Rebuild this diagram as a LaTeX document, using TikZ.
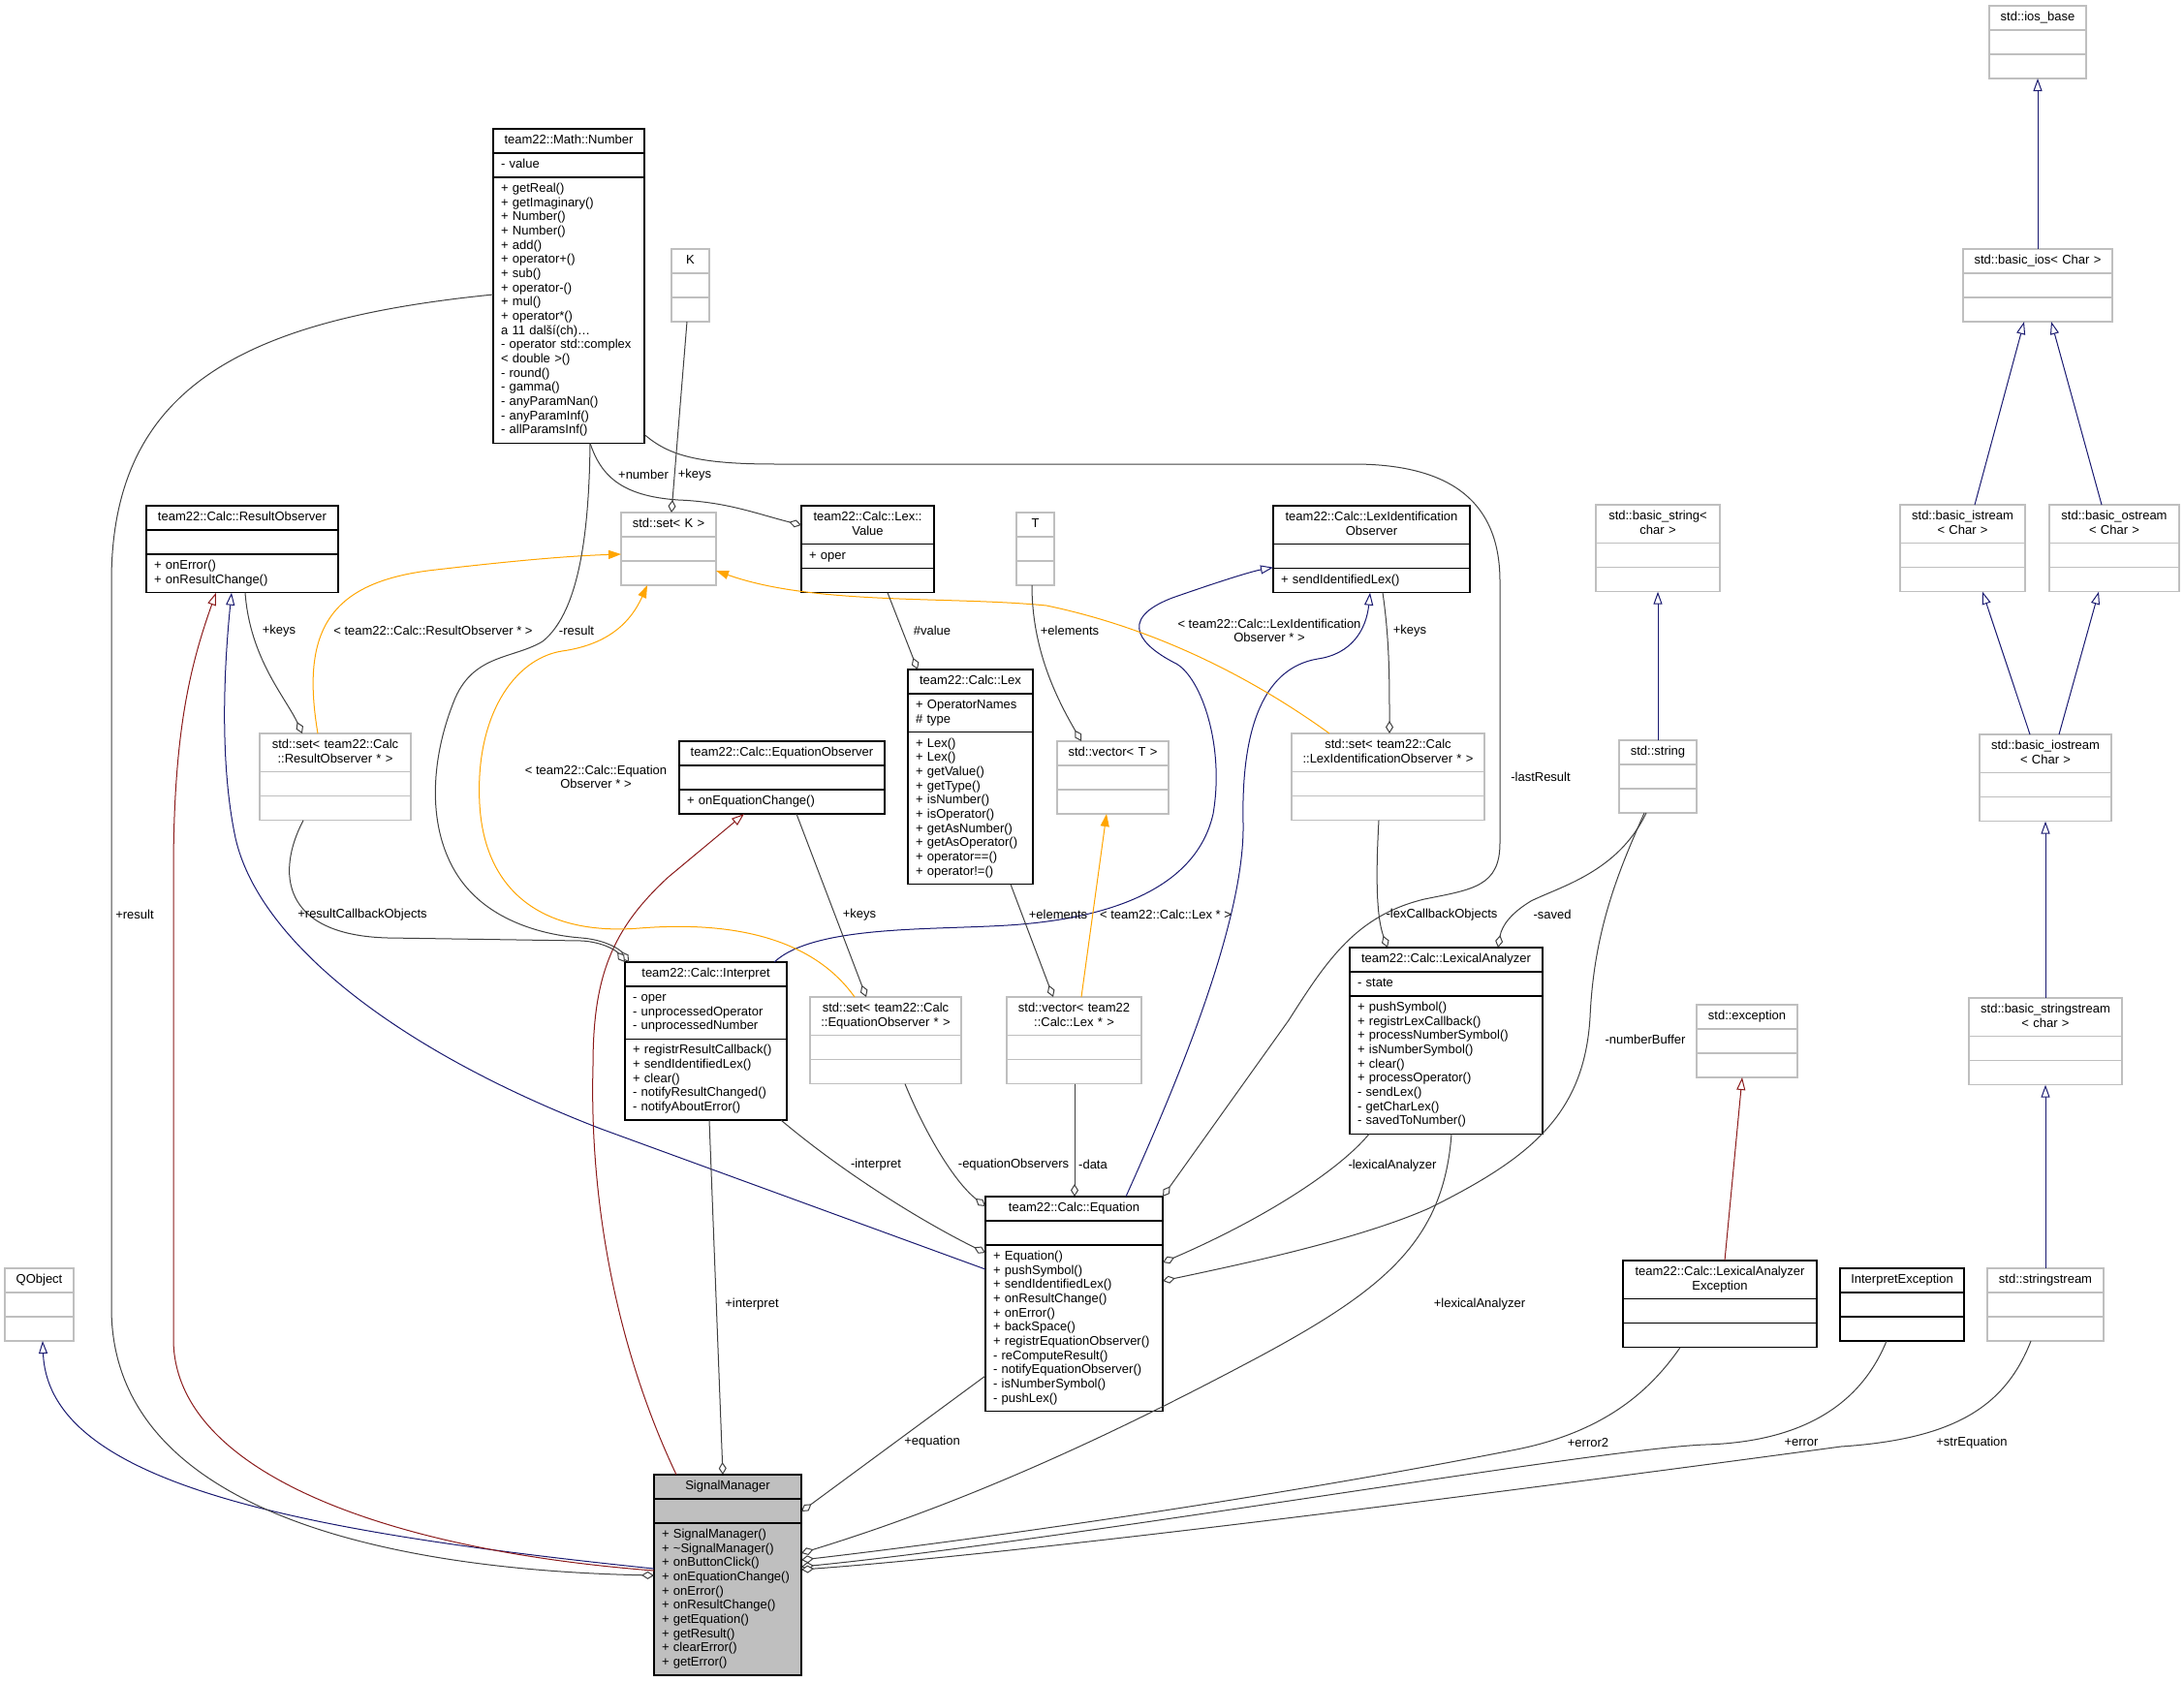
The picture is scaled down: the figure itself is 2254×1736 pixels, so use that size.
\documentclass[tikz,border=0pt]{standalone}
\usepackage{fontspec}
\setmainfont{Liberation Sans}
\usetikzlibrary{arrows.meta, positioning}

\definecolor{edgegray}{HTML}{404040}
\definecolor{inhblue}{HTML}{191970}
\definecolor{privred}{HTML}{8B1A1A}
\definecolor{tmplorange}{HTML}{FFA500}
\definecolor{ghostgray}{HTML}{BFBFBF}

\newcommand{\clsfont}{\fontsize{13}{14.67}\selectfont}

\tikzset{
  clsbox/.style={
    rectangle,
    draw,
    fill=white,
    line width=1.2pt,
    inner xsep=8pt,
    inner ysep=5.17pt,
    outer sep=0pt,
    font=\clsfont,
    execute at begin node=\strut,
    execute at end node=\strut
  },
  solidcls/.style={clsbox, draw=black},
  ghostcls/.style={clsbox, draw=ghostgray},
  focuscls/.style={clsbox, draw=black, fill=ghostgray},
  titlepart/.style={align=center},
  memberpart/.style={align=left},
  uses/.style={draw=edgegray, line width=1pt, -{Diamond[length=13pt, width=8pt, fill=white]}},
  inherits/.style={draw=inhblue, line width=1pt, -{Triangle[length=13pt, width=9pt, fill=white]}},
  privinherits/.style={draw=privred, line width=1pt, -{Triangle[length=13pt, width=9pt, fill=white]}},
  instance/.style={draw=tmplorange, line width=1pt, -{Triangle[length=13pt, width=9pt, fill=tmplorange]}},
  note/.style={font=\clsfont, inner sep=0pt, align=center}
}

% class box: title, attributes, methods
\newcommand{\umlclass}[7][solidcls]{%
  \pgfmathsetlengthmacro{\clstw}{#4-16}%
  \node[#1, titlepart, text width=\clstw, anchor=north west] (#2) at (#3) {#5};
  \node[#1, memberpart, text width=\clstw, below=0pt of #2] (#2-a) {#6};
  \node[#1, memberpart, text width=\clstw, below=0pt of #2-a] (#2-m) {#7};
}

\begin{document}
\begin{tikzpicture}[x=1pt,y=-1pt]
\useasboundingbox (0,0) rectangle (2254,1736);

\umlclass{number}{509,133}{156}{team22::Math::Number}{- value}{+ getReal()\\+ getImaginary()\\+ Number()\\+ Number()\\+ add()\\+ operator+()\\+ sub()\\+ operator-()\\+ mul()\\+ operator*()\\a 11 další(ch)\ldots\\- operator std::complex\\< double >()\\- round()\\- gamma()\\- anyParamNan()\\- anyParamInf()\\- allParamsInf()}
\umlclass[ghostcls]{keyK}{693,257}{39}{K}{}{}
\umlclass{resobs}{151,522}{198}{team22::Calc::ResultObserver}{}{+ onError()\\+ onResultChange()}
\umlclass[ghostcls]{setK}{641,529}{98}{std::set< K >}{}{}
\umlclass{lexval}{827,522}{137}{team22::Calc::Lex::\\Value}{+ oper}{}
\umlclass[ghostcls]{tparam}{1049,529}{39}{T}{}{}
\umlclass{lexidobs}{1314,522}{203}{team22::Calc::LexIdentification\\Observer}{}{+ sendIdentifiedLex()}
\umlclass{lex}{937,691}{129}{team22::Calc::Lex}{+ OperatorNames\\\# type}{+ Lex()\\+ Lex()\\+ getValue()\\+ getType()\\+ isNumber()\\+ isOperator()\\+ getAsNumber()\\+ getAsOperator()\\+ operator==()\\+ operator!=()}
\umlclass{eqobs}{701,765}{212}{team22::Calc::EquationObserver}{}{+ onEquationChange()}
\umlclass[ghostcls]{vecT}{1091,765}{115}{std::vector< T >}{}{}
\umlclass[ghostcls]{setres}{268,757}{156}{std::set< team22::Calc\\::ResultObserver * >}{}{}
\umlclass[ghostcls]{setlexid}{1333,757}{199}{std::set< team22::Calc\\::LexIdentificationObserver * >}{}{}
\umlclass{interp}{645,993}{167}{team22::Calc::Interpret}{- oper\\- unprocessedOperator\\- unprocessedNumber}{+ registrResultCallback()\\+ sendIdentifiedLex()\\+ clear()\\- notifyResultChanged()\\- notifyAboutError()}
\umlclass[ghostcls]{seteq}{836,1029}{156}{std::set< team22::Calc\\::EquationObserver * >}{}{}
\umlclass[ghostcls]{veclex}{1039,1029}{139}{std::vector< team22\\::Calc::Lex * >}{}{}
\umlclass{equation}{1017,1235}{183}{team22::Calc::Equation}{}{+ Equation()\\+ pushSymbol()\\+ sendIdentifiedLex()\\+ onResultChange()\\+ onError()\\+ backSpace()\\+ registrEquationObserver()\\- reComputeResult()\\- notifyEquationObserver()\\- isNumberSymbol()\\- pushLex()}
\umlclass{lexan}{1393,978}{199}{team22::Calc::LexicalAnalyzer}{- state}{+ pushSymbol()\\+ registrLexCallback()\\+ processNumberSymbol()\\+ isNumberSymbol()\\+ clear()\\+ processOperator()\\- sendLex()\\- getCharLex()\\- savedToNumber()}
\umlclass[focuscls]{sigman}{675,1522}{152}{SignalManager}{}{+ SignalManager()\\+ \textasciitilde SignalManager()\\+ onButtonClick()\\+ onEquationChange()\\+ onError()\\+ onResultChange()\\+ getEquation()\\+ getResult()\\+ clearError()\\+ getError()}
\umlclass[ghostcls]{qobject}{5,1309}{71}{QObject}{}{}
\umlclass[ghostcls]{stdexc}{1751,1037}{104}{std::exception}{}{}
\umlclass{lexexc}{1675,1301}{200}{team22::Calc::LexicalAnalyzer\\Exception}{}{}
\umlclass{interpexc}{1899,1309}{128}{InterpretException}{}{}
\umlclass[ghostcls]{sstream}{2051,1309}{120}{std::stringstream}{}{}
\umlclass[ghostcls]{sstreambase}{2032,1030}{158}{std::basic\_stringstream\\< char >}{}{}
\umlclass[ghostcls]{stdstring}{1671,764}{80}{std::string}{}{}
\umlclass[ghostcls]{iostream}{2043,758}{136}{std::basic\_iostream\\< Char >}{}{}
\umlclass[ghostcls]{basicstr}{1647,521}{128}{std::basic\_string<\\ char >}{}{}
\umlclass[ghostcls]{istream}{1961,521}{129}{std::basic\_istream\\< Char >}{}{}
\umlclass[ghostcls]{ostream}{2115,521}{134}{std::basic\_ostream\\< Char >}{}{}
\umlclass[ghostcls]{basicios}{2026,257}{154}{std::basic\_ios< Char >}{}{}
\umlclass[ghostcls]{iosbase}{2053,6}{100}{std::ios\_base}{}{}

% inheritance
\draw[inherits] ([yshift=-47pt]sigman-m.north west) .. controls (300,1580) and (50,1530) .. ([xshift=39pt]qobject-m.south west);
\draw[inherits] ([yshift=-25pt]equation-m.north west) -- (620,1165) .. controls (400,1080) and (262,965) .. (242,860) .. controls (226,780) and (232,680) .. ([xshift=88pt]resobs-m.south west);
\draw[inherits] ([xshift=154pt]interp.north west) .. controls (840,955) and (960,960) .. (1040,955) .. controls (1150,948) and (1235,915) .. (1252,840) .. controls (1264,770) and (1240,700) .. (1214,685) .. controls (1180,668) and (1150,640) .. (1210,617) .. controls (1250,603) and (1290,590) .. ([yshift=-24pt]lexidobs-a.north west);
\draw[inherits] ([xshift=145pt]equation.north west) .. controls (1200,1150) and (1285,960) .. (1283,850) .. controls (1281,760) and (1300,690) .. (1360,680) .. controls (1395,675) and (1410,650) .. ([xshift=100pt]lexidobs-m.south west);
\draw[privinherits] ([yshift=-49pt]sigman-m.north west) .. controls (400,1600) and (180,1520) .. (179,1383) -- (179,900) .. controls (179,760) and (195,690) .. ([xshift=72pt]resobs-m.south west);
\draw[privinherits] ([xshift=23pt]sigman.north west) .. controls (640,1400) and (608,1250) .. (612,1100) .. controls (612,1010) and (630,960) .. (690,905) -- ([xshift=67pt]eqobs-m.south west);
\draw[privinherits] ([xshift=105pt]lexexc.north west) -- ([xshift=47pt]stdexc-m.south west);
\draw[inherits] (stdstring.north) -- (basicstr-m.south);
\draw[inherits] (basicios.north) -- (iosbase-m.south);
\draw[inherits] ([xshift=77pt]istream.north west) -- ([xshift=63pt]basicios-m.south west);
\draw[inherits] ([xshift=54pt]ostream.north west) -- ([xshift=91pt]basicios-m.south west);
\draw[inherits] ([xshift=52pt]iostream.north west) -- ([xshift=85pt]istream-m.south west);
\draw[inherits] ([xshift=82pt]iostream.north west) -- ([xshift=51pt]ostream-m.south west);
\draw[inherits] (sstreambase.north) -- (iostream-m.south);
\draw[inherits] (sstream.north) -- (sstreambase-m.south);

% template instances
\draw[instance] ([xshift=60pt]setres.north west) .. controls (310,650) and (340,600) .. (450,588) .. controls (520,580) and (580,574) .. ([yshift=-18pt]setK-a.north west);
\draw[instance] ([xshift=46pt]seteq.north west) .. controls (840,970) and (760,950) .. (660,958) .. controls (560,966) and (500,920) .. (495,830) .. controls (490,740) and (530,680) .. (580,672) .. controls (630,665) and (652,640) .. ([xshift=27pt]setK-m.south west);
\draw[instance] ([xshift=39pt]setlexid.north west) .. controls (1300,705) and (1200,650) .. (1080,625) .. controls (980,615) and (840,625) .. ([yshift=-10pt]setK-m.north east);
\draw[instance] ([xshift=77pt]veclex.north west) -- ([xshift=51pt]vecT-m.south west);

% usage
\draw[uses] ([yshift=-121pt]number-m.north west) .. controls (250,330) and (115,400) .. (115,600) -- (115,1350) .. controls (115,1560) and (400,1620) .. ([yshift=-54pt]sigman-m.north west);
\draw[uses] ([xshift=100pt]number-m.south west) .. controls (620,490) and (640,512) .. (700,516) .. controls (750,518) and (780,530) .. ([yshift=-20pt]lexval.north west);
\draw[uses] ([xshift=100pt]number-m.south west) .. controls (608,540) and (600,630) .. (560,662) .. controls (530,680) and (490,675) .. (470,720) .. controls (445,780) and (440,850) .. (470,900) .. controls (500,950) and (560,965) .. (600,968) .. controls (625,970) and (640,980) .. ([xshift=4pt]interp.north west);
\draw[uses] ([xshift=16pt]keyK-m.south west) -- ([xshift=52pt]setK.north west);
\draw[uses] ([xshift=89pt]lexval-m.south west) -- ([xshift=10pt]lex.north west);
\draw[uses] ([xshift=16pt]tparam-m.south west) .. controls (1065,670) and (1090,720) .. ([xshift=25pt]vecT.north west);
\draw[uses] ([xshift=102pt]resobs-m.south west) .. controls (258,680) and (295,720) .. ([xshift=44pt]setres.north west);
\draw[uses] ([xshift=45pt]setres-m.south west) .. controls (285,900) and (290,965) .. (400,968) -- (600,971) .. controls (620,972) and (635,980) .. (interp.north west);
\draw[uses] ([xshift=121pt]eqobs-m.south west) -- ([xshift=58pt]seteq.north west);
\draw[uses] ([xshift=106pt]lex-m.south west) -- ([xshift=48pt]veclex.north west);
\draw[uses] ([xshift=70pt]veclex-m.south west) -- ([xshift=92pt]equation.north west);
\draw[uses] ([xshift=98pt]seteq-m.south west) .. controls (955,1170) and (985,1220) .. ([yshift=-10pt]equation.north west);
\draw[uses] ([xshift=161pt]interp-m.south west) .. controls (870,1210) and (950,1260) .. ([yshift=-8pt]equation-m.north west);
\draw[uses] ([xshift=87pt]interp-m.south west) -- ([xshift=71pt]sigman.north west);
\draw[uses] ([yshift=-135pt]equation-m.north west) -- ([yshift=-13pt]sigman-a.north east);
\draw[uses] ([yshift=9pt]number-m.south east) .. controls (690,470) and (720,479) .. (800,479) -- (1400,479) .. controls (1500,480) and (1548,520) .. (1548,600) -- (1548,870) .. controls (1548,915) and (1520,918) .. (1470,928) .. controls (1400,945) and (1370,990) .. (1330,1053) -- (equation.north east);
\draw[uses] ([xshift=90pt]setlexid-m.south west) .. controls (1420,900) and (1420,945) .. ([xshift=39pt]lexan.north west);
\draw[uses] ([xshift=113pt]lexidobs-m.south west) .. controls (1434,660) and (1434,700) .. ([xshift=101pt]setlexid.north west);
\draw[uses] ([xshift=28pt]stdstring-m.south west) .. controls (1670,900) and (1610,915) .. (1580,930) .. controls (1560,942) and (1550,955) .. ([xshift=153pt]lexan.north west);
\draw[uses] ([xshift=26pt]stdstring-m.south west) .. controls (1670,900) and (1645,960) .. (1641,1050) .. controls (1635,1150) and (1580,1195) .. (1475,1247) .. controls (1400,1280) and (1280,1305) .. ([yshift=-37pt]equation-m.north east);
\draw[uses] ([xshift=20pt]lexan-m.south west) .. controls (1380,1210) and (1300,1260) .. ([yshift=-18pt]equation-m.north east);
\draw[uses] ([xshift=105pt]lexan-m.south west) .. controls (1490,1280) and (1430,1330) .. (1300,1400) .. controls (1150,1480) and (1000,1550) .. ([yshift=-31pt]sigman-m.north east);
\draw[uses] ([xshift=59pt]lexexc-m.south west) .. controls (1700,1440) and (1650,1480) .. (1560,1497) .. controls (1300,1548) and (1000,1590) .. ([yshift=-38pt]sigman-m.north east);
\draw[uses] ([xshift=48pt]interpexc-m.south west) .. controls (1920,1450) and (1860,1488) .. (1760,1491) .. controls (1650,1495) and (1100,1590) .. ([yshift=-45pt]sigman-m.north east);
\draw[uses] ([xshift=45pt]sstream-m.south west) .. controls (2070,1450) and (2020,1485) .. (1900,1493) .. controls (1700,1520) and (1100,1600) .. ([yshift=-48pt]sigman-m.north east);

% edge labels
\node[note] (lblresult) at (139,944) {+result};
\node[note] (lblrescb) at (374,944) {+resultCallbackObjects};
\node[note] (lblnumber) at (664,490) {+number};
\node[note] (lblkeysK) at (717,490) {+keys};
\node[note] (lblkeysres) at (288,651) {+keys};
\node[note] (lblresinst) at (447,651) {< team22::Calc::ResultObserver * >};
\node[note] (lblres) at (595,651) {-result};
\node[note] (lblvalue) at (962,651) {\#value};
\node[note] (lblelemT) at (1104,651) {+elements};
\node[note] (lbllexidinst) at (1310,651) {< team22::Calc::LexIdentification\\Observer * >};
\node[note] (lblkeyslexid) at (1455,651) {+keys};
\node[note] (lbllastres) at (1590,802) {-lastResult};
\node[note] (lbleqinst) at (615,802) {< team22::Calc::Equation\\Observer * >};
\node[note] (lblkeyseq) at (887,944) {+keys};
\node[note] (lblelemlex) at (1092,944) {+elements};
\node[note] (lbllexinst) at (1203,944) {< team22::Calc::Lex * >};
\node[note] (lbllexcb) at (1488,944) {-lexCallbackObjects};
\node[note] (lblsaved) at (1602,944) {-saved};
\node[note] (lblnumbuf) at (1698,1073) {-numberBuffer};
\node[note] (lblinterp) at (904,1202) {-interpret};
\node[note] (lbleqobs) at (1046,1202) {-equationObservers};
\node[note] (lbldata) at (1128,1202) {-data};
\node[note] (lbllexan) at (1437,1203) {-lexicalAnalyzer};
\node[note] (lblinterppub) at (776,1346) {+interpret};
\node[note] (lbllexanpub) at (1527,1346) {+lexicalAnalyzer};
\node[note] (lblequation) at (962,1488) {+equation};
\node[note] (lblerror2) at (1639,1489) {+error2};
\node[note] (lblerror) at (1859,1489) {+error};
\node[note] (lblstreq) at (2035,1489) {+strEquation};
\end{tikzpicture}
\end{document}
